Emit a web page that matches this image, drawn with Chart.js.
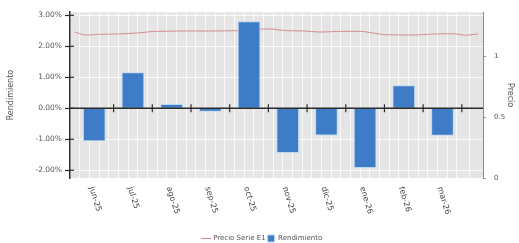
<!DOCTYPE html>
<html lang="es">
<head>
  <meta charset="UTF-8" />
  <title>Rendimiento mensual</title>
  <script src="https://cdn.jsdelivr.net/npm/chart.js"></script>
  <style>
    html, body { margin: 0; padding: 0; background: #fff; }
    #wrap { width: 519px; height: 243px; }
  </style>
</head>
<body>
  <div id="wrap"><canvas id="rendChart"></canvas></div>

  <script>
    // Datos
    const meses = ['jun-25', 'jul-25', 'ago-25', 'sep-25', 'oct-25', 'nov-25', 'dic-25', 'ene-26', 'feb-26', 'mar-26'];
    const rendimiento = [-1.05, 1.15, 0.13, -0.10, 2.80, -1.43, -0.87, -1.92, 0.73, -0.88];

    // precio de la serie, posicion en meses desde el inicio
    const precioMes = [0, 0.24, 0.62, 1.13, 1.63, 2.01, 2.77, 3.52, 4.28, 4.66, 5.04, 5.42, 5.92, 6.30, 6.81, 7.44, 7.94, 8.32, 8.83, 9.33, 9.84, 10.10, 10.42];
    const precio = [1.203, 1.179, 1.183, 1.187, 1.195, 1.207, 1.211, 1.211, 1.215, 1.224, 1.228, 1.215, 1.211, 1.203, 1.207, 1.207, 1.183, 1.179, 1.179, 1.187, 1.187, 1.176, 1.187];

    const ticksRend = [-2, -1, 0, 1, 2, 3];
    const ticksPrecio = [0, 0.5, 1];

    const fuente = 'DejaVu Sans';
    Chart.defaults.font.family = fuente;
    Chart.defaults.font.size = 7;
    Chart.defaults.color = '#555';

    // fondo gris del area, linea del cero y etiquetas giradas
    const decoracion = {
      id: 'decoracion',
      beforeDraw(chart) {
        const a = chart.chartArea, ctx = chart.ctx;
        ctx.save();
        ctx.fillStyle = '#e5e5e5';
        ctx.fillRect(a.left, a.top, a.right - a.left, a.bottom - a.top);
        ctx.restore();
      },
      afterDatasetsDraw(chart) {
        const ctx = chart.ctx, x = chart.scales.x, y = chart.scales.y;
        const y0 = y.getPixelForValue(0);
        ctx.save();
        ctx.strokeStyle = '#2b2b2b';
        ctx.lineWidth = 1.5;
        ctx.beginPath();
        ctx.moveTo(x.left, y0);
        ctx.lineTo(x.right, y0);
        ctx.stroke();
        ctx.lineWidth = 1.2;
        for (let i = 1; i <= meses.length; i++) {
          const px = x.getPixelForValue(i);
          ctx.beginPath();
          ctx.moveTo(px, y0 - 4);
          ctx.lineTo(px, y0 + 4);
          ctx.stroke();
        }
        // marcas del eje izquierdo hacia adentro
        ticksRend.forEach(v => {
          const py = y.getPixelForValue(v);
          ctx.beginPath();
          ctx.moveTo(y.right, py);
          ctx.lineTo(y.right + 4, py);
          ctx.stroke();
        });
        ctx.restore();
      },
      afterDraw(chart) {
        const ctx = chart.ctx, x = chart.scales.x;
        ctx.save();
        ctx.fillStyle = '#444';
        ctx.font = '8px ' + fuente;
        ctx.textAlign = 'left';
        ctx.textBaseline = 'middle';
        meses.forEach((m, i) => {
          const px = x.getPixelForValue(i + 0.5);
          ctx.save();
          ctx.translate(px - 3, x.top + 9);
          ctx.rotate(73 * Math.PI / 180);
          ctx.fillText(m, 0, 0);
          ctx.restore();
        });
        ctx.restore();
      }
    };

    const ctx = document.getElementById('rendChart').getContext('2d');
    const rendChart = new Chart(ctx, {
      data: {
        datasets: [{
          type: 'line',
          label: 'Precio Serie E1',
          data: precioMes.map((m, i) => ({ x: m, y: precio[i] })),
          yAxisID: 'y2',
          borderColor: '#d58a8e',
          borderWidth: 1,
          pointRadius: 0,
          pointStyle: 'line',
          tension: 0.2,
          order: 2
        }, {
          type: 'bar',
          label: 'Rendimiento',
          data: rendimiento.map((v, i) => ({ x: i + 0.5, y: v })),
          yAxisID: 'y',
          backgroundColor: '#3e7cc8',
          borderColor: '#bcd6f0',
          borderWidth: 1,
          barThickness: 22,
          pointStyle: 'rect',
          order: 1
        }]
      },
      options: {
        responsive: true,
        maintainAspectRatio: false,
        animation: false,
        layout: { padding: { top: 6, right: 0, left: 6, bottom: -9 } },
        plugins: {
          tooltip: { enabled: false },
          legend: {
            position: 'bottom',
            labels: {
              usePointStyle: true,
              boxWidth: 10,
              boxHeight: 8,
              padding: 2,
              color: '#555',
              font: { size: 7 },
              sort: (a, b) => a.datasetIndex - b.datasetIndex
            }
          }
        },
        scales: {
          x: {
            type: 'linear',
            min: 0,
            max: 10.42,
            ticks: { display: false, stepSize: 0.25 },
            grid: { color: 'rgba(255,255,255,0.75)', lineWidth: 1, drawTicks: false },
            border: { display: false },
            afterFit: s => { s.height = 55; }
          },
          y: {
            position: 'left',
            min: -2.25,
            max: 3.1,
            afterBuildTicks: s => { s.ticks = ticksRend.map(v => ({ value: v })); },
            ticks: {
              callback: v => v.toFixed(2) + '%',
              color: '#555',
              font: { size: 7.5 },
              padding: 3
            },
            grid: { color: 'rgba(255,255,255,0.85)', tickColor: '#2b2b2b', tickLength: 5, tickWidth: 1.2 },
            border: { display: true, color: '#2b2b2b', width: 1.5 },
            title: { display: true, text: 'Rendimiento', color: '#555', font: { size: 8 }, padding: { top: 0, bottom: 6 } },
            afterFit: s => { s.width = 64; }
          },
          y2: {
            position: 'right',
            min: 0,
            max: 1.366,
            afterBuildTicks: s => { s.ticks = ticksPrecio.map(v => ({ value: v })); },
            ticks: { callback: v => String(v), color: '#555', font: { size: 7 }, padding: 8 },
            grid: { drawOnChartArea: false, tickColor: '#999', tickLength: 3 },
            border: { display: true, color: '#8c8c8c', width: 1 },
            title: { display: true, text: 'Precio', color: '#555', font: { size: 8 }, padding: { top: 4, bottom: 0 } },
            afterFit: s => { s.width = 36; }
          }
        }
      },
      plugins: [decoracion]
    });
  </script>
</body>
</html>
